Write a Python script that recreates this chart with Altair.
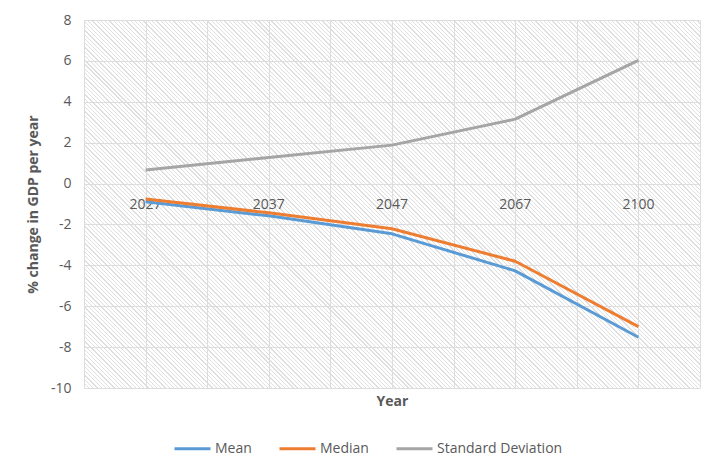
import math
import altair as alt
import pandas as pd

years = ["2027", "2037", "2047", "2067", "2100"]
mean_vals = [-0.89, -1.58, -2.46, -4.27, -7.52]
median_vals = [-0.76, -1.43, -2.21, -3.80, -7.00]
sd_vals = [0.66, 1.28, 1.88, 3.15, 6.03]
series_names = ["Mean", "Median", "Standard Deviation"]
series_colors = ["#5B9BD5", "#ED7D31", "#A5A5A5"]
y_ticks = [-10, -8, -6, -4, -2, 0, 2, 4, 6, 8]

rows = []
for name, vals in zip(series_names, [mean_vals, median_vals, sd_vals]):
    for i, (yr, v) in enumerate(zip(years, vals)):
        rows.append({"idx": i, "year": yr, "series": name, "value": v})
df = pd.DataFrame(rows)
lab_df = pd.DataFrame({"idx": list(range(len(years))), "year": years, "zero": [0] * len(years)})

W, H = 616, 368
FONT = "Open Sans"
TXT = "#595959"

# diagonal hatch background via a striped linear gradient
r = H / W
x2 = (1 + r) / (1 + r * r)
y2 = 1 - r * (1 + r) / (1 + r * r)
L = (W + H) / math.sqrt(2)
period = 3.0
n = int(L / period)
a = 0.3
stops = []
for k in range(n):
    o0 = k / n
    o1 = (k + a) / n
    o2 = (k + 1) / n
    stops.append("{offset:%.5f,color:'#dfdfdf'}" % o0)
    stops.append("{offset:%.5f,color:'#dfdfdf'}" % o1)
    stops.append("{offset:%.5f,color:'#ffffff'}" % o1)
    stops.append("{offset:%.5f,color:'#ffffff'}" % o2)
grad_expr = "{gradient:'linear',x1:0,y1:1,x2:%.5f,y2:%.5f,stops:[%s]}" % (x2, y2, ",".join(stops))

x_scale = alt.Scale(domain=[-0.5, len(years) - 0.5], nice=False, zero=False)
y_scale = alt.Scale(domain=[-10, 8], nice=False)

x_axis = alt.Axis(
    values=[i * 0.5 - 0.5 for i in range(2 * len(years) + 1)],
    labels=False, ticks=False, domain=False, grid=True,
    gridColor="#DDDDDD", gridWidth=1,
    title="Year", titleFont=FONT, titleFontSize=14, titleFontWeight="bold",
    titleColor=TXT, titlePadding=6,
)
y_axis = alt.Axis(
    values=y_ticks, ticks=False, domain=False, grid=True,
    gridColor="#DDDDDD", gridWidth=1,
    labelExpr="datum.value + ''",
    labelFont=FONT, labelFontSize=14, labelColor=TXT, labelPadding=13,
    title="% change in GDP per year", titleFont=FONT, titleFontSize=14,
    titleFontWeight="bold", titleColor=TXT, titleX=-51, titleY=H / 2,
    titleBaseline="middle",
)

labels = alt.Chart(lab_df).mark_text(
    font=FONT, fontSize=14, color=TXT, dy=21, baseline="middle"
).encode(
    x=alt.X("idx:Q", scale=x_scale, axis=x_axis),
    y=alt.Y("zero:Q", scale=y_scale, axis=y_axis),
    text="year:N",
)

lines = alt.Chart(df).mark_line(strokeWidth=3, strokeJoin="round").encode(
    x=alt.X("idx:Q", scale=x_scale, axis=x_axis),
    y=alt.Y("value:Q", scale=y_scale, axis=y_axis),
    color=alt.Color(
        "series:N",
        scale=alt.Scale(domain=series_names, range=series_colors),
        sort=series_names,
        legend=alt.Legend(
            title=None, orient="none", direction="horizontal",
            legendX=89, legendY=409, symbolType="stroke", symbolSize=1296,
            symbolStrokeWidth=3, labelFont=FONT, labelFontSize=14,
            labelColor=TXT, labelOffset=3, columnPadding=21, padding=0,
        ),
    ),
    detail="series:N",
)

chart = alt.layer(labels, lines).properties(
    width=W, height=H,
    autosize=alt.AutoSizeParams(type="none"),
    padding={"left": 76, "top": 12, "right": 13, "bottom": 78},
).configure_view(
    stroke="transparent", fill=alt.ExprRef(grad_expr)
)

chart.save("out.html", embed_options={"renderer": "svg", "actions": False})
